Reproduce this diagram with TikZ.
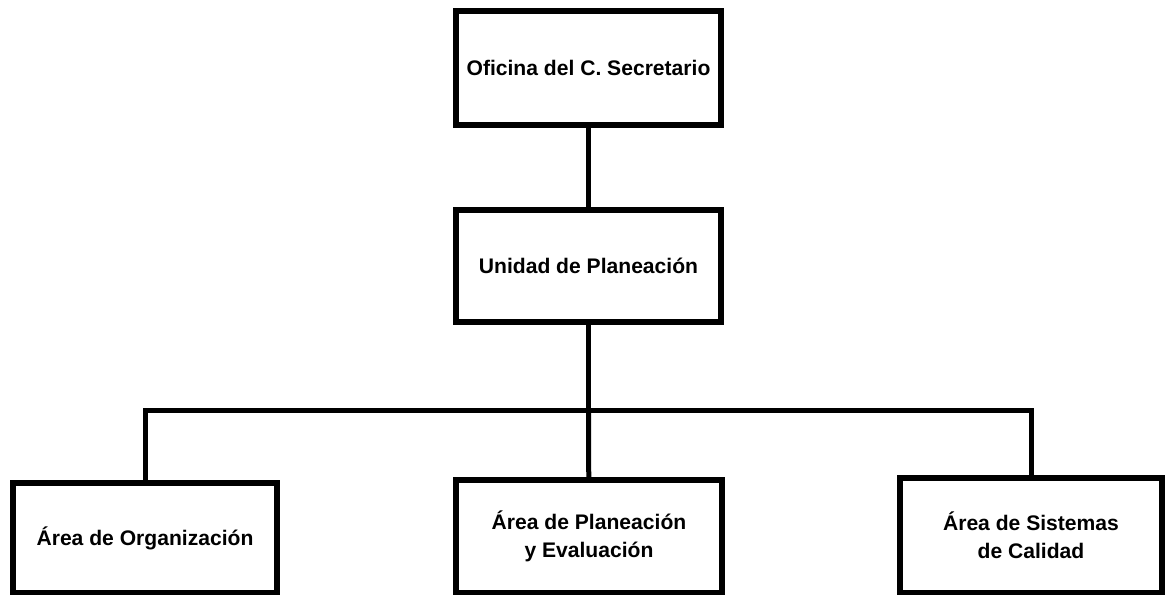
\documentclass[tikz,border=0pt]{standalone}
\usepackage{fontspec}
\setmainfont{Liberation Sans}
\usetikzlibrary{positioning}

\tikzset{
  orgbox/.style={rectangle, draw, line width=0.15cm, align=center, inner sep=0pt,
    font=\fontsize{15}{20}\selectfont\bfseries},
  link/.style={line width=0.125cm}
}

\begin{document}
\begin{tikzpicture}[x=0.025cm, y=-0.025cm]
\useasboundingbox (0,0) rectangle (1166,594);
\node (oficina) [orgbox, minimum width=6.625cm, minimum height=2.85cm] at (588.5,68) {Oficina del C. Secretario};
\node (unidad) [orgbox, minimum width=6.625cm, minimum height=2.8cm] at (588.5,266) {Unidad de Planeaci\'on};
\node (organizacion) [orgbox, minimum width=6.6cm, minimum height=2.75cm] at (145,538) {\'Area de Organizaci\'on};
\node (evaluacion) [orgbox, minimum width=6.65cm, minimum height=2.83cm] at (589,536.5) {\'Area de Planeaci\'on\\y Evaluaci\'on};
\node (calidad) [orgbox, minimum width=6.55cm, minimum height=2.88cm] at (1031,535.5) {\'Area de Sistemas\\de Calidad};
\coordinate (bus) at (588.5,410);

\draw [link] (oficina) -- (unidad);
\draw [link] (unidad) -- (bus);
\draw [link] (bus) -- (evaluacion);
\draw [link] (organizacion.north) |- (bus) -| (calidad.north);
\end{tikzpicture}
\end{document}
